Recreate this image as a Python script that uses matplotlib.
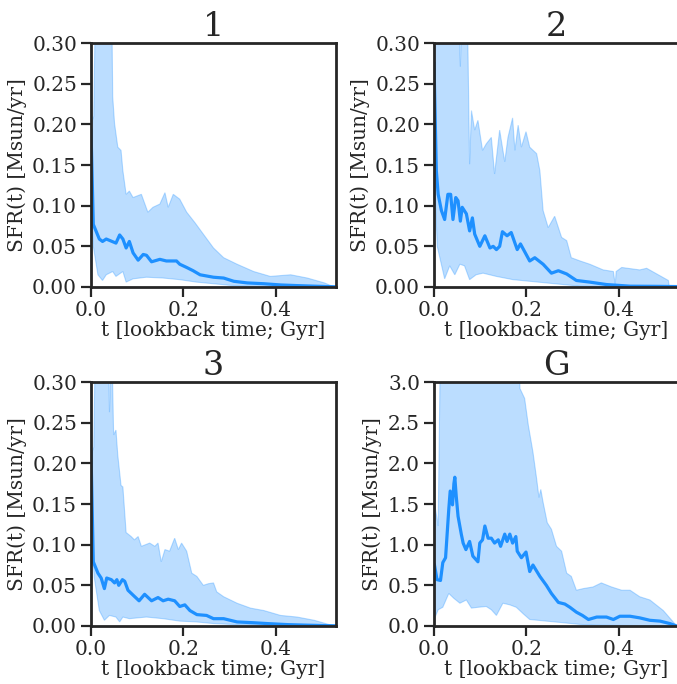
import numpy as np
import matplotlib
matplotlib.use('Agg')
import matplotlib.pyplot as plt

# SFR(t) median and spread for each run
titles = ['1', '2', '3', 'G']

# run 1
t1_med = [0.0, 0.005, 0.018, 0.025, 0.033, 0.054, 0.062, 0.069, 0.076, 0.083, 0.091, 0.102, 0.113, 0.120,
          0.131, 0.149, 0.163, 0.185, 0.192, 0.207, 0.221, 0.236, 0.265, 0.287, 0.309, 0.338, 0.374, 0.41,
          0.446, 0.483, 0.512, 0.526]
sfr1_med = [0.193, 0.077, 0.059, 0.056, 0.059, 0.054, 0.064, 0.059, 0.048, 0.056, 0.042, 0.033, 0.040, 0.039,
            0.031, 0.034, 0.032, 0.032, 0.028, 0.024, 0.020, 0.015, 0.012, 0.011, 0.007, 0.005, 0.004, 0.0025,
            0.0017, 0.001, 0.0005, 0.0003]
t1_hi = [0.0, 0.006, 0.012, 0.035, 0.044, 0.047, 0.051, 0.058, 0.065, 0.069, 0.076, 0.083, 0.091, 0.109, 0.123,
         0.134, 0.149, 0.160, 0.167, 0.178, 0.192, 0.207, 0.225, 0.243, 0.265, 0.287, 0.316, 0.352, 0.388,
         0.432, 0.468, 0.505, 0.526]
sfr1_hi = [0.20, 0.21, 0.45, 0.45, 0.40, 0.234, 0.201, 0.172, 0.168, 0.143, 0.114, 0.118, 0.110, 0.114, 0.092,
           0.098, 0.102, 0.116, 0.098, 0.114, 0.108, 0.092, 0.079, 0.065, 0.048, 0.036, 0.028, 0.019, 0.013,
           0.015, 0.011, 0.005, 0.0]
t1_lo = [0.0, 0.005, 0.015, 0.025, 0.033, 0.047, 0.054, 0.069, 0.076, 0.091, 0.120, 0.156, 0.192, 0.228,
         0.265, 0.301, 0.338, 0.4, 0.526]
sfr1_lo = [0.11, 0.05, 0.015, 0.008, 0.015, 0.019, 0.013, 0.019, 0.006, 0.010, 0.012, 0.011, 0.009, 0.006,
           0.004, 0.002, 0.001, 0.0005, 0.0]

# run 2
t2_med = [0.0, 0.005, 0.009, 0.016, 0.023, 0.030, 0.036, 0.041, 0.047, 0.052, 0.057, 0.061, 0.070, 0.077,
          0.083, 0.088, 0.099, 0.110, 0.121, 0.128, 0.135, 0.142, 0.148, 0.158, 0.167, 0.180, 0.187, 0.207,
          0.218, 0.236, 0.254, 0.269, 0.287, 0.308, 0.337, 0.373, 0.424, 0.48, 0.525]
sfr2_med = [0.275, 0.143, 0.114, 0.094, 0.083, 0.114, 0.114, 0.083, 0.110, 0.106, 0.081, 0.098, 0.090, 0.069,
            0.085, 0.065, 0.050, 0.063, 0.048, 0.050, 0.046, 0.050, 0.068, 0.063, 0.067, 0.046, 0.053, 0.032,
            0.036, 0.028, 0.017, 0.020, 0.016, 0.008, 0.006, 0.003, 0.001, 0.0008, 0.0005]
t2_hi = [0.0, 0.03, 0.05, 0.057, 0.063, 0.072, 0.077, 0.081, 0.088, 0.095, 0.105, 0.113, 0.124, 0.131, 0.142,
         0.153, 0.160, 0.170, 0.175, 0.182, 0.189, 0.199, 0.207, 0.222, 0.229, 0.236, 0.247, 0.261, 0.276,
         0.287, 0.297, 0.316, 0.337, 0.366, 0.388, 0.392, 0.394, 0.406, 0.445, 0.46, 0.507, 0.509, 0.525]
sfr2_hi = [0.45, 0.45, 0.40, 0.271, 0.40, 0.35, 0.151, 0.217, 0.193, 0.205, 0.168, 0.176, 0.184, 0.139, 0.193,
           0.154, 0.184, 0.208, 0.168, 0.199, 0.172, 0.191, 0.172, 0.164, 0.143, 0.094, 0.073, 0.087, 0.061,
           0.057, 0.036, 0.032, 0.028, 0.021, 0.019, 0.003, 0.019, 0.024, 0.021, 0.023, 0.008, 0.0, 0.0]
t2_lo = [0.0, 0.007, 0.023, 0.034, 0.045, 0.056, 0.066, 0.077, 0.091, 0.106, 0.135, 0.171, 0.207, 0.243,
         0.279, 0.315, 0.4, 0.525]
sfr2_lo = [0.15, 0.05, 0.010, 0.026, 0.015, 0.028, 0.026, 0.009, 0.015, 0.017, 0.013, 0.009, 0.007, 0.005,
           0.003, 0.001, 0.0005, 0.0]

# run 3
t3_med = [0.0, 0.005, 0.015, 0.022, 0.029, 0.034, 0.044, 0.051, 0.056, 0.060, 0.068, 0.073, 0.080, 0.091,
          0.104, 0.116, 0.131, 0.145, 0.156, 0.167, 0.181, 0.192, 0.203, 0.214, 0.229, 0.250, 0.265, 0.287,
          0.316, 0.352, 0.381, 0.425, 0.468, 0.512, 0.526]
sfr3_med = [0.214, 0.079, 0.065, 0.059, 0.046, 0.059, 0.057, 0.053, 0.057, 0.050, 0.057, 0.055, 0.044, 0.038,
            0.031, 0.039, 0.031, 0.035, 0.031, 0.033, 0.031, 0.024, 0.026, 0.019, 0.014, 0.013, 0.009, 0.009,
            0.005, 0.004, 0.003, 0.0017, 0.001, 0.0004, 0.0003]
t3_hi = [0.0, 0.006, 0.012, 0.035, 0.040, 0.045, 0.049, 0.054, 0.058, 0.065, 0.069, 0.076, 0.087, 0.094,
         0.102, 0.109, 0.127, 0.138, 0.145, 0.152, 0.160, 0.170, 0.181, 0.189, 0.196, 0.207, 0.218, 0.229,
         0.243, 0.254, 0.265, 0.272, 0.287, 0.316, 0.345, 0.374, 0.41, 0.446, 0.483, 0.526]
sfr3_hi = [0.21, 0.22, 0.45, 0.45, 0.263, 0.35, 0.235, 0.241, 0.21, 0.173, 0.171, 0.115, 0.110, 0.106,
           0.110, 0.098, 0.102, 0.098, 0.102, 0.079, 0.094, 0.092, 0.108, 0.094, 0.102, 0.092, 0.065, 0.061,
           0.050, 0.052, 0.053, 0.042, 0.036, 0.028, 0.022, 0.019, 0.013, 0.011, 0.007, 0.0]
t3_lo = [0.0, 0.007, 0.018, 0.029, 0.040, 0.054, 0.062, 0.069, 0.083, 0.120, 0.156, 0.192, 0.228, 0.265,
         0.301, 0.4, 0.526]
sfr3_lo = [0.12, 0.06, 0.019, 0.007, 0.013, 0.011, 0.005, 0.011, 0.009, 0.011, 0.009, 0.006, 0.005, 0.003,
           0.002, 0.0005, 0.0]

# run G
tG_med = [0.001, 0.0065, 0.014, 0.019, 0.025, 0.032, 0.035, 0.040, 0.043, 0.045, 0.048, 0.052, 0.059, 0.063,
          0.069, 0.077, 0.084, 0.095, 0.099, 0.105, 0.110, 0.117, 0.124, 0.131, 0.139, 0.144, 0.153, 0.158,
          0.164, 0.170, 0.177, 0.180, 0.189, 0.199, 0.207, 0.214, 0.229, 0.243, 0.254, 0.269, 0.283, 0.294,
          0.308, 0.321, 0.334, 0.352, 0.373, 0.388, 0.402, 0.424, 0.445, 0.467, 0.489, 0.510, 0.525]
sfrG_med = [0.75, 0.57, 0.56, 0.78, 0.84, 1.44, 1.66, 1.49, 1.75, 1.83, 1.60, 1.35, 1.13, 1.02, 0.94, 1.04,
            0.86, 0.79, 1.02, 1.06, 1.23, 1.08, 1.08, 1.02, 1.06, 0.98, 1.13, 1.04, 1.13, 1.02, 1.10, 0.92,
            0.84, 0.91, 0.67, 0.75, 0.61, 0.50, 0.40, 0.29, 0.27, 0.23, 0.17, 0.13, 0.08, 0.11, 0.11, 0.08,
            0.12, 0.12, 0.10, 0.07, 0.06, 0.03, 0.0]
tG_hi = [0.001, 0.009, 0.016, 0.1, 0.18, 0.186, 0.196, 0.204, 0.214, 0.222, 0.227, 0.231, 0.236, 0.245,
         0.254, 0.265, 0.276, 0.287, 0.297, 0.308, 0.323, 0.344, 0.362, 0.384, 0.406, 0.424, 0.445, 0.467,
         0.496, 0.525]
sfrG_hi = [1.52, 1.23, 4.5, 4.5, 4.0, 2.92, 2.80, 2.47, 2.14, 1.81, 1.58, 1.68, 1.52, 1.27, 1.19, 0.98, 0.92,
           0.65, 0.61, 0.44, 0.46, 0.48, 0.53, 0.48, 0.44, 0.44, 0.36, 0.32, 0.19, 0.0]
tG_lo = [0.001, 0.009, 0.019, 0.032, 0.043, 0.056, 0.070, 0.081, 0.095, 0.113, 0.124, 0.135, 0.149, 0.164,
         0.178, 0.193, 0.207, 0.243, 0.28, 0.315, 0.35, 0.45, 0.525]
sfrG_lo = [0.09, 0.20, 0.23, 0.40, 0.34, 0.28, 0.32, 0.22, 0.23, 0.24, 0.20, 0.13, 0.28, 0.26, 0.23, 0.15,
           0.08, 0.06, 0.04, 0.02, 0.01, 0.005, 0.0]

runs = [
    (t1_med, sfr1_med, t1_hi, sfr1_hi, t1_lo, sfr1_lo),
    (t2_med, sfr2_med, t2_hi, sfr2_hi, t2_lo, sfr2_lo),
    (t3_med, sfr3_med, t3_hi, sfr3_hi, t3_lo, sfr3_lo),
    (tG_med, sfrG_med, tG_hi, sfrG_hi, tG_lo, sfrG_lo),
]
ymax = [0.3, 0.3, 0.3, 3.0]

plt.rcParams['font.family'] = 'DejaVu Serif'
plt.rcParams['text.color'] = '#262626'
plt.rcParams['axes.labelcolor'] = '#262626'
plt.rcParams['xtick.color'] = '#262626'
plt.rcParams['ytick.color'] = '#262626'

fig, axes = plt.subplots(2, 2, figsize=(6.77, 6.84), dpi=100)
plt.subplots_adjust(left=0.1344, right=1.003, bottom=0.0848, top=0.937, wspace=0.40, hspace=0.39)

for ax, title, run, ym in zip(axes.flat, titles, runs, ymax):
    t_med, med, t_hi, hi, t_lo, lo = run
    poly_t = np.concatenate([t_hi, t_lo[::-1]])
    poly_v = np.concatenate([hi, lo[::-1]])
    ax.fill(poly_t, poly_v, color='dodgerblue', alpha=0.3, lw=0.8)
    ax.plot(t_med, med, color='dodgerblue', lw=2.3)
    ax.set_xlim(0, 0.53)
    ax.set_ylim(0, ym)
    ax.set_title(title, fontsize=24, pad=5)
    ax.set_xlabel('t [lookback time; Gyr]', fontsize=14.5, labelpad=1)
    ax.set_ylabel('SFR(t) [Msun/yr]', fontsize=14.5, labelpad=4)
    ax.set_xticks([0.0, 0.2, 0.4])
    if ym == 3.0:
        ax.set_yticks(np.arange(0, 3.01, 0.5))
        ax.yaxis.set_major_formatter(matplotlib.ticker.FormatStrFormatter('%.1f'))
    else:
        ax.set_yticks(np.arange(0, 0.301, 0.05))
        ax.yaxis.set_major_formatter(matplotlib.ticker.FormatStrFormatter('%.2f'))
    ax.tick_params(labelsize=14.5, length=7, width=1.6, direction='out', pad=3)
    for sp in ax.spines.values():
        sp.set_linewidth(2)
        sp.set_color('#262626')

plt.savefig('out.png', dpi=100)
